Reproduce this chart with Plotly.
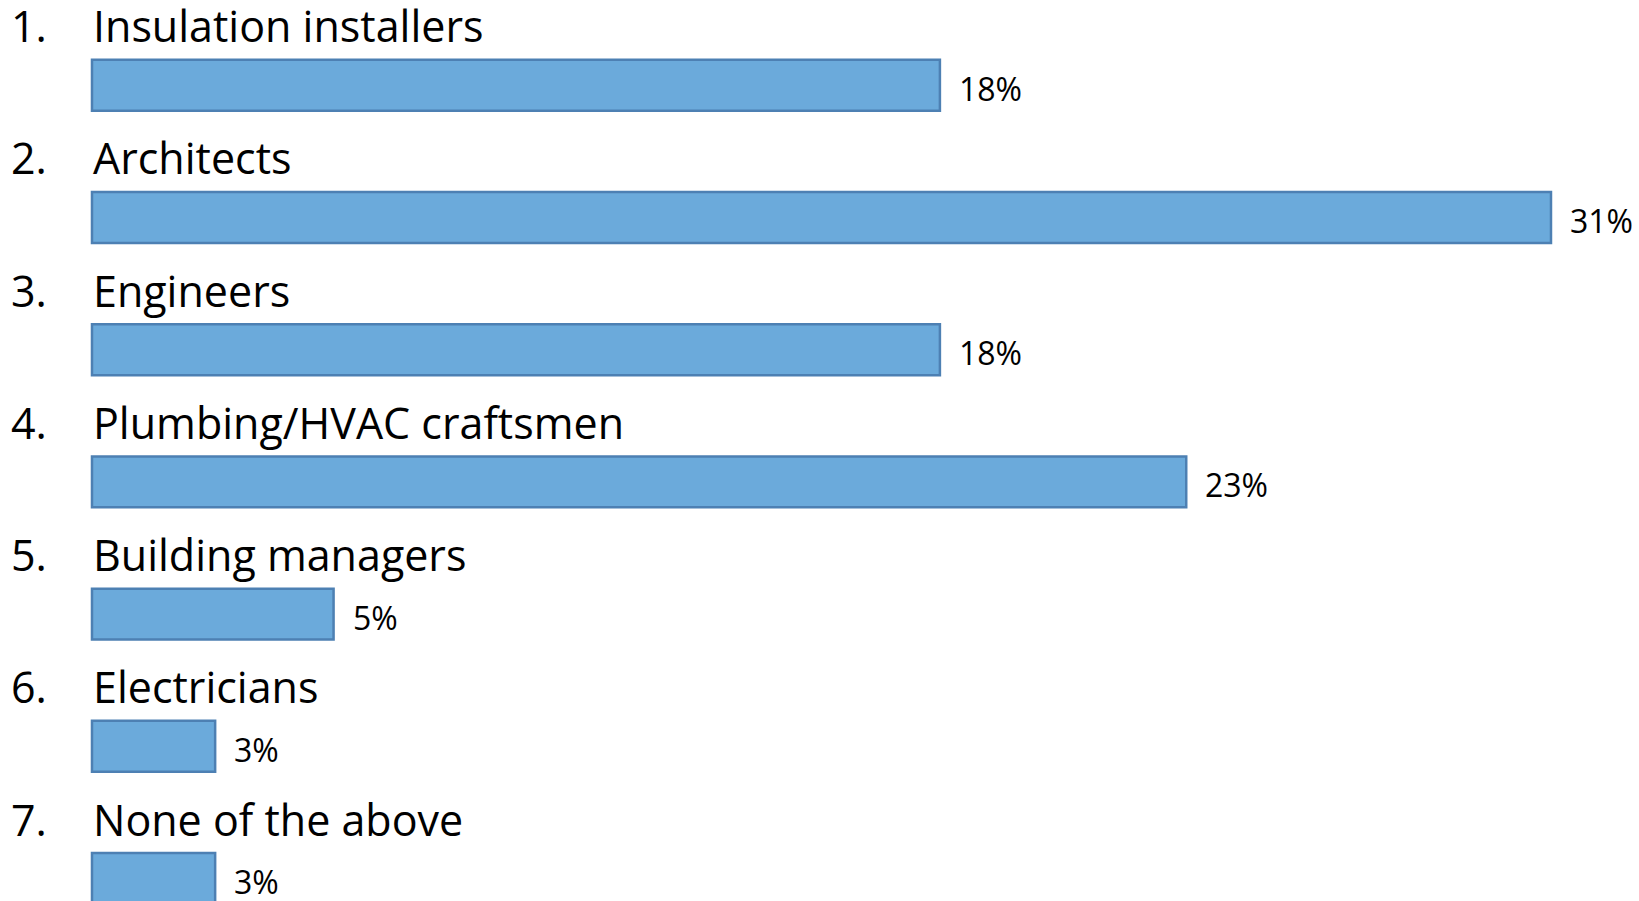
import plotly.graph_objects as go

numbers = ["1.", "2.", "3.", "4.", "5.", "6.", "7."]
categories = ["Insulation installers", "Architects", "Engineers",
              "Plumbing/HVAC craftsmen", "Building managers", "Electricians",
              "None of the above"]
values = [0.179, 0.308, 0.179, 0.231, 0.051, 0.026, 0.026]
value_labels = ["18%", "31%", "18%", "23%", "5%", "3%", "3%"]

pos = list(range(len(categories)))

FONT = "Open Sans"
fig = go.Figure()
fig.add_trace(go.Bar(
    x=values, y=pos, orientation="h", width=0.385,
    marker=dict(color="#6baadb", line=dict(color="#4d80b3", width=2.5)),
    hoverinfo="skip", showlegend=False,
))

ann = []
for p, n, c, v, t in zip(pos, numbers, categories, values, value_labels):
    ann.append(dict(x=10/1639, xref="paper", y=p - 0.45, yref="y", text=n,
                    showarrow=False, xanchor="left", yanchor="middle", borderpad=0,
                    font=dict(family=FONT, size=43, color="black")))
    ann.append(dict(x=0, xref="x", y=p - 0.45, yref="y", text=c,
                    showarrow=False, xanchor="left", yanchor="middle", borderpad=0,
                    font=dict(family=FONT, size=43, color="black")))
    ann.append(dict(x=v, xref="x", y=p, yref="y", text=t,
                    showarrow=False, xanchor="left", yanchor="middle",
                    xshift=17, yshift=-3,
                    font=dict(family=FONT, size=32, color="black")))

fig.update_layout(
    width=1639, height=901,
    margin=dict(l=0, r=0, t=0, b=0),
    paper_bgcolor="white", plot_bgcolor="white",
    xaxis=dict(range=[-0.01942, 0.32658], visible=False, fixedrange=True),
    yaxis=dict(range=[6.170, -0.645], visible=False, fixedrange=True),
    annotations=ann,
)

fig.write_html("out.html", config={"displayModeBar": False},
               post_script="document.body.style.margin='0';")
